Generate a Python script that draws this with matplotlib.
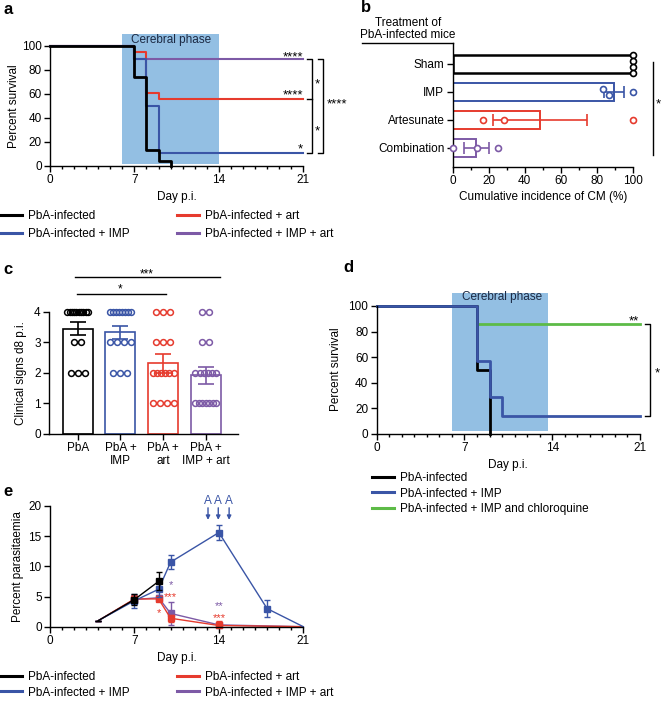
import numpy as np
import matplotlib
matplotlib.use("Agg")
import matplotlib.pyplot as plt
from matplotlib.lines import Line2D

plt.rcParams['font.family'] = ['Liberation Sans', 'DejaVu Sans']
plt.rcParams['font.size'] = 8.5
plt.rcParams['axes.linewidth'] = 1.0

W, H = 661, 701

# couleurs
noir = '#000000'
bleu = '#3A55A6'
rouge = '#E63B2E'
violet = '#7D5AA6'
vert = '#5DBB47'
zone = '#93BFE3'

# ---- a : survie ----
a_labels = ['PbA-infected', 'PbA-infected + IMP', 'PbA-infected + art', 'PbA-infected + IMP + art']
a_noir_t = [0, 7, 8, 9, 10]
a_noir_s = [100, 73.9, 13.0, 4.3, 0]
a_bleu_t = [0, 7, 8, 9, 21]
a_bleu_s = [100, 88.9, 50.0, 11.1, 11.1]
a_rouge_t = [0, 7, 8, 9, 21]
a_rouge_s = [100, 94.4, 61.1, 55.6, 55.6]
a_violet_t = [0, 7, 21]
a_violet_s = [100, 88.9, 88.9]
phase_cerebrale = [6, 14]

# ---- b : incidence cumulee ----
b_groupes = ['Sham', 'IMP', 'Artesunate', 'Combination']
b_moy = [100, 89.5, 48.5, 13]
b_sem = [0, 5.5, 26, 7]
b_points = [[100, 100, 100, 100], [86.7, 83.3, 100], [16.7, 28.7, 100], [0, 13.3, 25]]

# ---- c : signes cliniques ----
c_groupes = ['PbA', 'PbA +\nIMP', 'PbA +\nart', 'PbA +\nIMP + art']
c_scores = [4, 3, 2, 1]
c_effectifs = [[10, 2, 3, 0], [8, 4, 3, 0], [3, 3, 6, 4], [2, 2, 6, 7]]
c_moy = [3.45, 3.33, 2.31, 1.92]
c_sem = [0.21, 0.21, 0.31, 0.27]

# ---- d : survie chloroquine ----
d_labels = ['PbA-infected', 'PbA-infected + IMP', 'PbA-infected + IMP and chloroquine']
d_noir_t = [0, 8, 9]
d_noir_s = [100, 50, 0]
d_bleu_t = [0, 8, 9, 10, 21]
d_bleu_s = [100, 57.1, 28.6, 14.3, 14.3]
d_vert_t = [0, 8, 21]
d_vert_s = [100, 85.7, 85.7]

# ---- e : parasitemie ----
e_noir_j = [4, 7, 9]
e_noir_v = [1, 4.5, 7.5]
e_noir_err = [0, 0.9, 1.5]
e_bleu_j = [4, 7, 9, 10, 14, 18, 21]
e_bleu_v = [1, 4.3, 6.2, 10.7, 15.6, 3.0, 0]
e_bleu_err = [0, 1.2, 1.3, 1.2, 1.3, 1.4, 0]
e_rouge_j = [4, 7, 9, 10, 14, 21]
e_rouge_v = [1, 4.6, 4.6, 1.4, 0.2, 0]
e_rouge_err = [0, 0.7, 0.4, 0.6, 0.7, 0]
e_violet_j = [4, 7, 9, 10, 14, 21]
e_violet_v = [1, 4.5, 4.8, 2.2, 0.3, 0]
e_violet_err = [0, 0.8, 0.5, 1.9, 0.5, 0]
e_jours_A = [13.1, 13.95, 14.85]


def box(l, t, r, b):
    return [l / W, 1 - b / H, (r - l) / W, (b - t) / H]


def habiller(ax):
    for s in ['top', 'right']:
        ax.spines[s].set_visible(False)
    ax.tick_params(which='major', direction='out', length=4, width=1, labelsize=8.5, pad=2)
    ax.tick_params(which='minor', direction='out', length=2.5, width=1)


def etoiles(ax, x, y, s, color='k', ha='center', taille=9.5):
    # y = centre visuel du glyphe
    ax.annotate(s, (x, y), xytext=(0, -0.58 * taille), textcoords='offset points', ha=ha,
                va='baseline', color=color, fontsize=taille, annotation_clip=False)


def survie(ax, t, s, color, lw=1.5):
    ax.step(t, s, where='post', color=color, lw=lw, clip_on=False)


def axe_jours(ax):
    ax.set_xlim(0, 21)
    ax.set_xticks([0, 7, 14, 21])
    ax.set_xticks(np.arange(0, 22), minor=True)


def legende(poignees, labels, x, y, esp=0.48):
    fig.legend(poignees, labels, loc='upper left', bbox_to_anchor=(x / W, 1 - y / H),
               frameon=False, borderpad=0, borderaxespad=0, handlelength=1.85,
               handletextpad=0.5, labelspacing=esp, fontsize=8.5)


fig = plt.figure(figsize=(W / 100, H / 100), dpi=100)

# ================= a =================
ax = fig.add_axes(box(50, 33.7, 303.3, 166))
habiller(ax)
ax.axvspan(phase_cerebrale[0], phase_cerebrale[1], ymin=1.5 / 110, ymax=1, color=zone, lw=0, zorder=0)
ax.text(10, 105, 'Cerebral phase', ha='center', va='center', color='#1c2a44')
survie(ax, a_violet_t, a_violet_s, violet)
survie(ax, a_rouge_t, a_rouge_s, rouge)
survie(ax, a_bleu_t, a_bleu_s, bleu)
survie(ax, a_noir_t, a_noir_s, noir, lw=2)
axe_jours(ax)
ax.set_ylim(0, 110)
ax.spines['left'].set_bounds(0, 100)
ax.set_yticks(range(0, 101, 20))
ax.set_ylabel('Percent survival', va='center')
ax.yaxis.set_label_coords(-0.144, 0.454)
ax.set_xlabel('Day p.i.', va='center')
ax.xaxis.set_label_coords(0.5, -0.234)
etoiles(ax, 21, 94.5, '****', ha='right')
etoiles(ax, 21, 62.3, '****', ha='right')
etoiles(ax, 21, 17.5, '*', ha='right')
for xs, ys in [([21.3, 21.7, 21.7, 21.3], [88.9, 88.9, 11.1, 11.1]),
               ([21.3, 21.7], [55.6, 55.6]),
               ([22.2, 22.6, 22.6, 22.2], [88.9, 88.9, 11.1, 11.1])]:
    ax.plot(xs, ys, color='k', lw=1, clip_on=False)
etoiles(ax, 22.15, 71.5, '*')
etoiles(ax, 22.15, 33, '*')
etoiles(ax, 22.95, 55, '****', ha='left')

poignees = [Line2D([], [], color=c, lw=2.2) for c in [noir, bleu, rouge, violet]]
legende(poignees[:2], a_labels[:2], 0, 210)
legende(poignees[2:], a_labels[2:], 177, 210)

# ================= b =================
ax = fig.add_axes(box(452.7, 42.7, 632.7, 166.7))
habiller(ax)
couleurs_b = [noir, bleu, rouge, violet]
for i in range(4):
    ax.barh(i, b_moy[i], height=0.65, facecolor='white', edgecolor=couleurs_b[i],
            lw=1.8 if i == 0 else 1.4, zorder=2)
    if b_sem[i] > 0:
        ax.errorbar(b_moy[i], i, xerr=b_sem[i], fmt='none', ecolor=couleurs_b[i],
                    capsize=4, elinewidth=1.2, capthick=1.2, zorder=3)
    vals = np.array(b_points[i])
    decal = np.zeros(len(vals))
    # points proches empiles verticalement
    ordre = np.argsort(vals)
    groupes = [[ordre[0]]]
    for k in ordre[1:]:
        if vals[k] - vals[groupes[-1][-1]] < 5:
            groupes[-1].append(k)
        else:
            groupes.append([k])
    for g in groupes:
        n = len(g)
        for j, k in enumerate(g):
            decal[k] = (j - (n - 1) / 2) * 0.22
    ax.plot(vals, i + decal, 'o', mfc='white', mec=couleurs_b[i], ms=4.3, mew=1.2,
            clip_on=False, zorder=4, ls='none')
ax.set_ylim(3.68, -0.76)
ax.set_xlim(0, 100)
ax.set_yticks(range(4))
ax.set_yticklabels(b_groupes)
ax.set_xticks(range(0, 101, 20))
ax.set_xticks(range(0, 101, 10), minor=True)
ax.set_xlabel('Cumulative incidence of CM (%)', va='center')
ax.xaxis.set_label_coords(0.5, -0.247)
ax.plot([-0.504, 0], [1, 1], transform=ax.transAxes, color='k', lw=1, clip_on=False)
ax.text(-0.248, 1.01, 'Treatment of\nPbA-infected mice', transform=ax.transAxes,
        ha='center', va='bottom', linespacing=1.1)
ax.plot([111, 111], [-0.08, 3.26], color='k', lw=1, clip_on=False)
etoiles(ax, 114, 1.29, '*')

# ================= c =================
ax = fig.add_axes(box(49, 311.7, 238, 434))
habiller(ax)
couleurs_c = [noir, bleu, rouge, violet]
for i in range(4):
    ax.bar(i, c_moy[i], width=0.7, facecolor='white', edgecolor=couleurs_c[i], lw=1.2, zorder=2)
    ax.errorbar(i, c_moy[i], yerr=c_sem[i], fmt='none', ecolor=couleurs_c[i],
                capsize=5.5, elinewidth=1.2, capthick=1.2, zorder=3)
    for sc, n in zip(c_scores, c_effectifs[i]):
        if n == 0:
            continue
        pas = min(0.164, 0.49 / (n - 1)) if n > 1 else 0
        xs = i + (np.arange(n) - (n - 1) / 2) * pas
        ax.plot(xs, [sc] * n, 'o', mfc='none', mec=couleurs_c[i], ms=4.2, mew=1.1,
                clip_on=False, zorder=4, ls='none')
ax.set_xlim(-0.67, 3.75)
ax.set_ylim(0, 4)
ax.set_yticks(range(5))
ax.set_xticks(range(4))
ax.set_xticklabels(c_groupes, linespacing=1.1)
ax.set_ylabel('Clinical signs d8 p.i.', va='center')
ax.yaxis.set_label_coords(-0.148, 0.5)
ax.plot([-0.06, 3.33], [5.14, 5.14], color='k', lw=1, clip_on=False)
ax.plot([-0.02, 2.06], [4.57, 4.57], color='k', lw=1, clip_on=False)
etoiles(ax, 1.62, 5.36, '***', taille=8.5)
etoiles(ax, 0.99, 4.87, '*', taille=8.5)

# ================= d =================
ax = fig.add_axes(box(376.7, 293.2, 640, 434))
habiller(ax)
ax.axvspan(phase_cerebrale[0], 13.7, ymin=2.5 / 110, ymax=1, color=zone, lw=0, zorder=0)
ax.text(10, 106.8, 'Cerebral phase', ha='center', va='center', color='#1c2a44')
survie(ax, d_vert_t, d_vert_s, vert, lw=2)
survie(ax, d_noir_t, d_noir_s, noir, lw=2)
survie(ax, d_bleu_t, d_bleu_s, bleu, lw=2)
axe_jours(ax)
ax.set_ylim(0, 110)
ax.spines['left'].set_bounds(0, 100)
ax.set_yticks(range(0, 101, 20))
ax.set_ylabel('Percent survival', va='center')
ax.yaxis.set_label_coords(-0.155, 0.46)
ax.set_xlabel('Day p.i.', va='center')
ax.xaxis.set_label_coords(0.5, -0.22)
etoiles(ax, 20.5, 91.7, '**')
ax.plot([21.4, 21.8, 21.8, 21.4], [85.7, 85.7, 14.3, 14.3], color='k', lw=1, clip_on=False)
etoiles(ax, 22.4, 51.3, '*')
poignees = [Line2D([], [], color=c, lw=2.2) for c in [noir, bleu, vert]]
legende(poignees, d_labels, 372, 472, esp=0.3)

# ================= e =================
ax = fig.add_axes(box(50, 506, 303.3, 626.7))
habiller(ax)
series_e = [(e_violet_j, e_violet_v, e_violet_err, violet),
            (e_rouge_j, e_rouge_v, e_rouge_err, rouge),
            (e_bleu_j, e_bleu_v, e_bleu_err, bleu),
            (e_noir_j, e_noir_v, e_noir_err, noir)]
for j, v, err, c in series_e:
    marques = [k for k, jour in enumerate(j) if jour not in (4, 21)]
    ax.plot(j, v, color=c, lw=1.0, marker='s', ms=3.8, markevery=marques, clip_on=False)
    ax.errorbar(j, v, yerr=err, fmt='none', ecolor=c, capsize=2, elinewidth=1, capthick=1)
axe_jours(ax)
ax.set_ylim(0, 20)
ax.set_yticks(range(0, 21, 5))
ax.set_ylabel('Percent parasitaemia', va='center')
ax.yaxis.set_label_coords(-0.128, 0.5)
ax.set_xlabel('Day p.i.', va='center')
ax.xaxis.set_label_coords(0.5, -0.262)
for jour in e_jours_A:
    ax.text(jour, 20.8, 'A', ha='center', va='center', color=bleu, fontsize=8.5, clip_on=False)
    ax.annotate('', xy=(jour, 17.7), xytext=(jour, 19.7),
                arrowprops=dict(arrowstyle='-|>', color=bleu, lw=1, mutation_scale=6,
                                shrinkA=0, shrinkB=0), annotation_clip=False)
etoiles(ax, 10, 7.4, '*', color=violet, taille=8)
etoiles(ax, 10, 5.45, '***', color=rouge, taille=8)
etoiles(ax, 9, 2.8, '*', color=rouge, taille=8)
etoiles(ax, 14, 4.0, '**', color=violet, taille=8)
etoiles(ax, 14, 2.0, '***', color=rouge, taille=8)

poignees = [Line2D([], [], color=c, lw=2.2) for c in [noir, bleu, rouge, violet]]
legende(poignees[:2], a_labels[:2], 0, 671, esp=0.3)
legende(poignees[2:], a_labels[2:], 177, 671, esp=0.3)

# lettres des panneaux
for lettre, x, y in [('a', 8, 10), ('b', 366, 7), ('c', 8, 270), ('d', 348, 268), ('e', 8, 491)]:
    fig.text(x / W, 1 - y / H, lettre, fontweight='bold', fontsize=12, ha='center', va='center')

fig.savefig('out.png', dpi=100)
